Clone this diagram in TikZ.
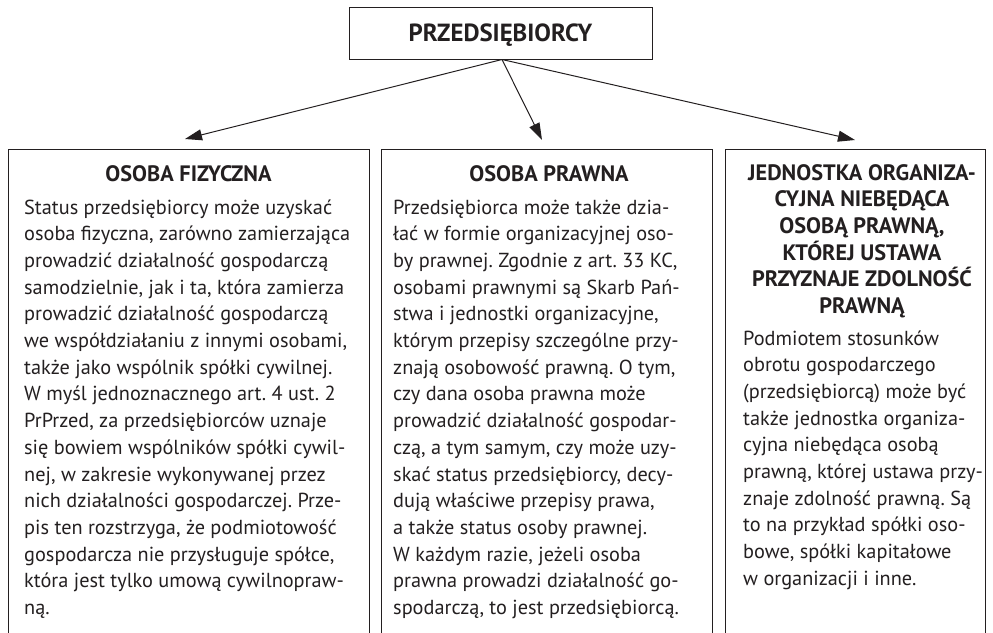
\documentclass[tikz,border=0pt]{standalone}
\usepackage{fontspec}
\setmainfont{PT Sans}
\usetikzlibrary{arrows.meta}
\definecolor{ink}{RGB}{35,31,32}
\begin{document}
\frenchspacing
\begin{tikzpicture}[x=1pt,y=-1pt,
  box/.style={draw=ink, line width=1.2pt, rectangle, inner sep=0pt, anchor=north west},
  body/.style={anchor=base west, align=left, inner sep=0pt, text=ink, font=\fontsize{20.3}{26.7}\selectfont},
  ttl/.style={anchor=base, align=center, inner sep=0pt, text=ink, font=\bfseries\fontsize{22.3}{26.7}\selectfont},
  arr/.style={draw=ink, line width=1pt, -{Triangle[length=17pt,width=11pt]}}]
\useasboundingbox (0,0) rectangle (993,632);
% top box
\node[box, minimum width=303pt, minimum height=52pt] (top) at (349,7) {};
\node[anchor=base, inner sep=0pt, text=ink, font=\bfseries\fontsize{24.8}{28}\selectfont] (toptxt) at (500.5,41.5) {PRZEDSIĘBIORCY};
% lower boxes (bottom edge lies below the page)
\node[box, minimum width=361pt, minimum height=520pt] (L) at (8,149) {};
\node[box, minimum width=331pt, minimum height=520pt] (M) at (381,149) {};
\node[box, minimum width=260pt, minimum height=520pt] (R) at (725,149) {};
% arrows
\coordinate (o) at (502,59.5);
\coordinate (tL) at (185,139);
\coordinate (tM) at (542,140);
\coordinate (tR) at (855,140);
\draw[arr] (o) -- (tL);
\draw[arr] (o) -- (tM);
\draw[arr] (o) -- (tR);
% left (base anchor = baseline of the last line)
\node[ttl] (Lt) at (188.5,181.5) {OSOBA FIZYCZNA};
\node[body] (Lb) at (24,614.5) {Status przedsiębiorcy może uzyskać\\
osoba fizyczna, zarówno zamierzająca\\
prowadzić działalność gospodarczą\\
samodzielnie, jak i ta, która zamierza\\
prowadzić działalność gospodarczą\\
we współdziałaniu z innymi osobami,\\
także jako wspólnik spółki cywilnej.\\
W myśl jednoznacznego art. 4 ust. 2\\
PrPrzed, za przedsiębiorców uznaje\\
się bowiem wspólników spółki cywil-\\
nej, w zakresie wykonywanej przez\\
nich działalności gospodarczej. Prze-\\
pis ten rozstrzyga, że podmiotowość\\
gospodarcza nie przysługuje spółce,\\
która jest tylko umową cywilnopraw-\\
ną.};
% middle
\node[ttl] (Mt) at (549,181.5) {OSOBA PRAWNA};
\node[body] (Mb) at (393,614.5) {Przedsiębiorca może także dzia-\\
łać w formie organizacyjnej oso-\\
by prawnej. Zgodnie z art. 33 KC,\\
osobami prawnymi są Skarb Pań-\\
stwa i jednostki organizacyjne,\\
którym przepisy szczególne przy-\\
znają osobowość prawną. O tym,\\
czy dana osoba prawna może\\
prowadzić działalność gospodar-\\
czą, a tym samym, czy może uzy-\\
skać status przedsiębiorcy, decy-\\
dują właściwe przepisy prawa,\\
a także status osoby prawnej.\\
W każdym razie, jeżeli osoba\\
prawna prowadzi działalność go-\\
spodarczą, to jest przedsiębiorcą.};
% right
\node[ttl] (Rt) at (862,313.5) {JEDNOSTKA ORGANIZA-\\
CYJNA NIEBĘDĄCA\\
OSOBĄ PRAWNĄ,\\
KTÓREJ USTAWA\\
PRZYZNAJE ZDOLNOŚĆ\\
PRAWNĄ};
\node[body] (Rb) at (743,585.3) {Podmiotem stosunków\\
obrotu gospodarczego\\
(przedsiębiorcą) może być\\
także jednostka organiza-\\
cyjna niebędąca osobą\\
prawną, której ustawa przy-\\
znaje zdolność prawną. Są\\
to na przykład spółki oso-\\
bowe, spółki kapitałowe\\
w organizacji i inne.};
\end{tikzpicture}
\end{document}
